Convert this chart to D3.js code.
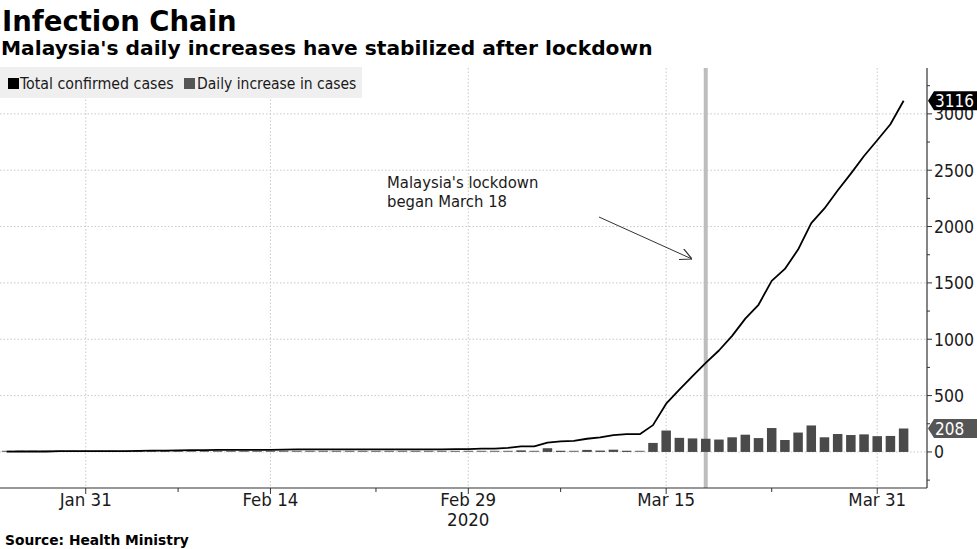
<!DOCTYPE html>
<html><head><meta charset="utf-8">
<script src="https://cdn.jsdelivr.net/npm/d3@7/dist/d3.min.js"></script>
<style>
body{margin:0;background:#fff;}
svg{display:block;font-family:"DejaVu Sans Condensed","DejaVu Sans",sans-serif;}
.wide{font-family:"DejaVu Sans",sans-serif;}
</style></head><body>
<svg id="c" width="977" height="549"></svg>
<script>
const dates = [
 "2020-01-25","2020-01-26","2020-01-27","2020-01-28","2020-01-29","2020-01-30","2020-01-31",
 "2020-02-01","2020-02-02","2020-02-03","2020-02-04","2020-02-05","2020-02-06","2020-02-07","2020-02-08","2020-02-09","2020-02-10",
 "2020-02-11","2020-02-12","2020-02-13","2020-02-14","2020-02-15","2020-02-16","2020-02-17","2020-02-18","2020-02-19","2020-02-20",
 "2020-02-21","2020-02-22","2020-02-23","2020-02-24","2020-02-25","2020-02-26","2020-02-27","2020-02-28","2020-02-29",
 "2020-03-01","2020-03-02","2020-03-03","2020-03-04","2020-03-05","2020-03-06","2020-03-07","2020-03-08","2020-03-09","2020-03-10",
 "2020-03-11","2020-03-12","2020-03-13","2020-03-14","2020-03-15","2020-03-16","2020-03-17","2020-03-18","2020-03-19","2020-03-20",
 "2020-03-21","2020-03-22","2020-03-23","2020-03-24","2020-03-25","2020-03-26","2020-03-27","2020-03-28","2020-03-29","2020-03-30",
 "2020-03-31","2020-04-01","2020-04-02"];
const totalCases = [
 3,4,4,4,7,8,8,
 8,8,8,10,12,12,14,16,16,18,
 18,18,18,19,21,22,22,22,22,22,
 22,22,22,22,22,22,23,25,25,
 29,29,36,50,50,83,93,99,117,129,
 149,158,158,238,428,553,673,790,900,1030,
 1183,1306,1518,1624,1796,2031,2161,2320,2470,2626,
 2766,2908,3116];
const dailyIncrease = [
 3,1,0,0,3,1,0,
 0,0,0,2,2,0,2,2,0,2,
 0,0,0,1,2,1,0,0,0,0,
 0,0,0,0,0,0,1,2,0,
 4,0,7,14,0,33,10,6,18,12,
 20,9,0,80,190,125,120,117,110,130,
 153,123,212,106,172,235,130,159,150,156,
 140,142,208];
const xTickDates = ["2020-01-31","2020-02-14","2020-02-29","2020-03-15","2020-03-31"];
const xTickLabels = ["Jan 31","Feb 14","Feb 29","Mar 15","Mar 31"];
const xMinorDates = ["2020-02-07","2020-02-22","2020-03-07","2020-03-23"];
const yTicks = [0,500,1000,1500,2000,2500,3000];
const yMinorTicks = [-250,250,750,1250,1750,2250,2750,3250];
const legendLabels = ["Total confirmed cases","Daily increase in cases"];
const lockdownDate = "2020-03-18";
const annotationLines = ["Malaysia's lockdown","began March 18"];
const title = "Infection Chain";
const subtitle = "Malaysia's daily increases have stabilized after lockdown";
const source = "Source: Health Ministry";

const parse = d3.timeParse("%Y-%m-%d");
const D = dates.map(parse);
const svg = d3.select("#c");
const L = 0, R = 927, T = 68, B = 488;

const x = d3.scaleTime().domain([parse("2020-01-24"), parse("2020-04-04")]).range([L - 6.6, R + 3]);
const y = d3.scaleLinear().domain([-320, 3407]).range([B, T]);

// titles
svg.append("text").attr("class","wide").attr("x",2).attr("y",31).attr("font-size",27.5).attr("font-weight","bold").text(title);
svg.append("text").attr("class","wide").attr("x",1).attr("y",55).attr("font-size",20.2).attr("font-weight","bold").text(subtitle);

// gridlines
const g = svg.append("g");
g.selectAll(".hg").data(yTicks).join("line")
 .attr("x1",L).attr("x2",R).attr("y1",d=>y(d)).attr("y2",d=>y(d))
 .attr("stroke","#c8c8c8").attr("stroke-dasharray","1.5,2").attr("stroke-width",1);
g.selectAll(".vg").data(xTickDates).join("line")
 .attr("x1",d=>x(parse(d))).attr("x2",d=>x(parse(d))).attr("y1",T).attr("y2",B)
 .attr("stroke","#c8c8c8").attr("stroke-dasharray","1.5,2").attr("stroke-width",1);

// legend
const lg = svg.append("g");
lg.append("rect").attr("x",0).attr("y",67).attr("width",362).attr("height",31).attr("fill","#efefef");
lg.append("rect").attr("x",8).attr("y",78).attr("width",11).attr("height",11).attr("fill","#000");
lg.append("text").attr("x",20).attr("y",89).attr("font-size",15.8).attr("fill","#1a1a1a").text(legendLabels[0]);
lg.append("rect").attr("x",184).attr("y",78).attr("width",11).attr("height",11).attr("fill","#555");
lg.append("text").attr("x",197).attr("y",89).attr("font-size",15.5).attr("fill","#1a1a1a").text(legendLabels[1]);

// lockdown line
svg.append("line").attr("x1",x(parse(lockdownDate))).attr("x2",x(parse(lockdownDate)))
 .attr("y1",T).attr("y2",B).attr("stroke","#bdbdbd").attr("stroke-width",4);

// bars
const bw = 9.5;
svg.append("g").selectAll("rect").data(dailyIncrease).join("rect")
 .attr("x",(d,i)=>x(D[i])-bw/2).attr("width",bw)
 .attr("y",d=>Math.min(y(d), y(0)-1.2)).attr("height",d=>Math.max(y(0)-y(d),1.2))
 .attr("fill",d=> d<8 ? "#777" : "#4a4a4a");

// line
svg.append("path").datum(totalCases)
 .attr("d", d3.line().x((d,i)=>x(D[i])).y(d=>y(d)))
 .attr("fill","none").attr("stroke","#000").attr("stroke-width",1.8).attr("stroke-linejoin","round");

// annotation
const an = svg.append("text").attr("font-size",16.5).attr("fill","#1a1a1a");
annotationLines.forEach((t,i)=>an.append("tspan").attr("x",387).attr("y",188+i*19).text(t));
svg.append("defs").append("marker").attr("id","ah").attr("viewBox","0 0 10 10").attr("refX",10).attr("refY",5)
 .attr("markerWidth",12).attr("markerHeight",12).attr("markerUnits","userSpaceOnUse").attr("orient","auto")
 .append("path").attr("d","M0,0 L10,5 L0,10").attr("fill","none").attr("stroke","#333").attr("stroke-width",1);
svg.append("line").attr("x1",599).attr("y1",217).attr("x2",692).attr("y2",259)
 .attr("stroke","#333").attr("stroke-width",1).attr("marker-end","url(#ah)");

// bottom axis
const xa = svg.append("g").attr("transform",`translate(0,${B})`);
xa.append("line").attr("x1",L).attr("x2",R).attr("stroke","#333").attr("stroke-width",1.2);
xa.selectAll(".mt").data(xTickDates).join("line").attr("x1",d=>x(parse(d))).attr("x2",d=>x(parse(d)))
 .attr("y1",0).attr("y2",6).attr("stroke","#333");
xa.selectAll(".nt").data(xMinorDates).join("line").attr("x1",d=>x(parse(d))).attr("x2",d=>x(parse(d)))
 .attr("y1",0).attr("y2",4).attr("stroke","#333");
xa.selectAll(".tl").data(xTickLabels).join("text").attr("x",(d,i)=>x(parse(xTickDates[i]))).attr("y",18)
 .attr("text-anchor","middle").attr("font-size",18.5).attr("fill","#1a1a1a").text(d=>d);
xa.append("text").attr("x",x(parse("2020-02-29"))).attr("y",38).attr("text-anchor","middle")
 .attr("font-size",18.5).attr("fill","#1a1a1a").text("2020");

// right axis
const ya = svg.append("g").attr("transform",`translate(${R},0)`);
ya.append("line").attr("y1",T).attr("y2",B).attr("stroke","#333").attr("stroke-width",1.2);
ya.selectAll(".yt").data(yTicks).join("line").attr("x1",0).attr("x2",5).attr("y1",d=>y(d)).attr("y2",d=>y(d)).attr("stroke","#333");
ya.selectAll(".ym").data(yMinorTicks).join("line").attr("x1",0).attr("x2",3).attr("y1",d=>y(d)).attr("y2",d=>y(d)).attr("stroke","#333");
ya.selectAll(".yl").data(yTicks).join("text").attr("x",7).attr("y",d=>y(d)).attr("dy","0.36em")
 .attr("font-size",17.5).attr("fill","#1a1a1a").text(d=>d);

// value tags
function tag(v, fill){
  const yy = y(v);
  const gt = svg.append("g").attr("transform",`translate(${R+1},${yy})`);
  gt.append("path").attr("d","M0,0 L6,-9.5 L50,-9.5 L50,9.5 L6,9.5 Z").attr("fill",fill);
  gt.append("text").attr("x",7).attr("y",0).attr("dy","0.36em").attr("font-size",17).attr("fill","#fff").text(v);
}
tag(totalCases[totalCases.length-1], "#000");
tag(dailyIncrease[dailyIncrease.length-1], "#555");

// source
svg.append("text").attr("class","wide").attr("x",5).attr("y",545).attr("font-size",13.8).attr("font-weight","bold").text(source);
</script>
</body></html>
